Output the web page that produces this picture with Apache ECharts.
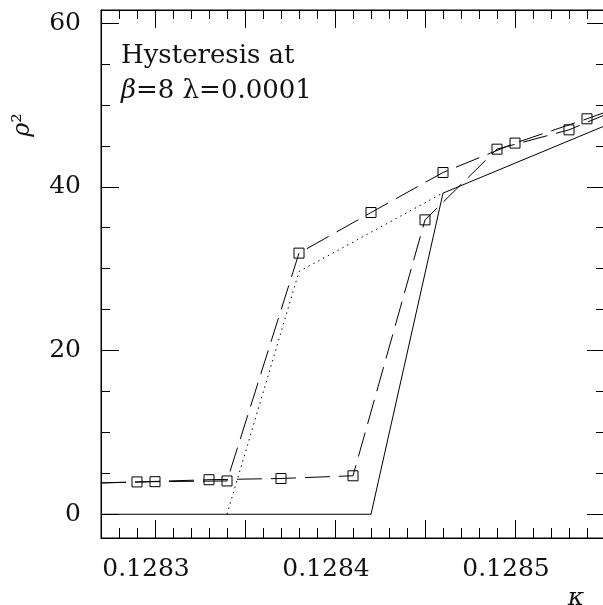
<!DOCTYPE html>
<html><head><meta charset="utf-8">
<script src="https://cdn.jsdelivr.net/npm/echarts@6/dist/echarts.min.js"></script>
<style>html,body{margin:0;padding:0;background:#fff}#c{width:603px;height:605px}</style>
</head><body><div id="c"></div>
<script>
// Axis ranges
const xMin = 0.12827, xMax = 0.12855;
const yMin = -2.9, yMax = 61.6;
// Tick labels and tick positions
const xLabelValues = [0.1283, 0.1284, 0.1285];
const xMajorTicks = [0.1283, 0.12835, 0.1284, 0.12845, 0.1285];
const xMinorTicks = [0.12828, 0.12829, 0.12831, 0.12832, 0.12833, 0.12834, 0.12836, 0.12837, 0.12838, 0.12839,
                     0.12841, 0.12842, 0.12843, 0.12844, 0.12846, 0.12847, 0.12848, 0.12849,
                     0.12851, 0.12852, 0.12853, 0.12854];
const yLabelValues = [0, 20, 40, 60];
const yMajorTicks = [0, 20, 40, 60];
const yMinorTicks = [5, 10, 15, 25, 30, 35, 45, 50, 55];

// Increasing-kappa branch (dashed, squares); first/last are values where the curve meets the frame
const upKappa = [0.12827, 0.12829, 0.12833, 0.12837, 0.12841, 0.12845, 0.12849, 0.12853, 0.12855];
const upRho   = [3.83, 3.95, 4.22, 4.37, 4.70, 35.96, 44.60, 46.96, 48.8];
// Decreasing-kappa branch (dashed, squares)
const downKappa = [0.12827, 0.12830, 0.12834, 0.12838, 0.12842, 0.12846, 0.12850, 0.12854, 0.12855];
const downRho   = [3.83, 3.98, 4.07, 31.9, 36.86, 41.75, 45.34, 48.31, 49.1];
// Solid curve
const solidKappa = [0.12827, 0.12842, 0.12846, 0.12855];
const solidRho   = [0, 0, 39.23, 47.46];
// Dotted curve
const dotKappa = [0.12834, 0.12838, 0.12846];
const dotRho   = [0, 29.65, 39.25];

const FONT = '"DejaVu Serif", serif';
const zip = (a, b) => a.map((v, i) => [v, b[i]]);

function tickAxis(kind, grid, pos, ticks, len, extra) {
  const base = {
    type: 'value', gridIndex: grid, position: pos,
    min: kind === 'x' ? xMin : yMin, max: kind === 'x' ? xMax : yMax,
    axisLine: { show: true, lineStyle: { color: '#000', width: 1 } },
    splitLine: { show: false },
    axisTick: { show: true, inside: true, length: len, customValues: ticks, lineStyle: { color: '#000', width: 1 } },
    axisLabel: { show: false }
  };
  return Object.assign(base, extra || {});
}
// helper axis whose range excludes zero, so the tick axes of that grid stay on the frame edges
const dummyAxis = (grid) => ({ type: 'value', gridIndex: grid, min: 1, max: 2, show: false });

const chart = echarts.init(document.getElementById('c'), null, { renderer: 'canvas' });

function branchSeries(k, r) {
  const n = k.length;
  return {
    type: 'line', xAxisIndex: 0, yAxisIndex: 0,
    data: zip(k, r),
    symbol: (v, p) => (p.dataIndex === 0 || p.dataIndex === n - 1) ? 'none' : 'rect',
    symbolSize: 10,
    showAllSymbol: true,
    itemStyle: { color: 'rgba(0,0,0,0)', borderColor: '#000', borderWidth: 1 },
    lineStyle: { color: '#000', width: 1, type: [25, 9] },
    emphasis: { disabled: true },
    clip: true, z: 3
  };
}

// minor kappa ticks on bottom and top frame edges, placed through the data axes' scale
function minorTickSeries() {
  return {
    type: 'custom', xAxisIndex: 0, yAxisIndex: 0, silent: true, clip: false, z: 4,
    data: xMinorTicks.map(v => [v, yMin]),
    renderItem: (params, api) => {
      const x = Math.round(api.coord([api.value(0), yMin])[0]) + 0.5;
      const yb = Math.round(api.coord([xMin, yMin])[1]);
      const yt = Math.round(api.coord([xMin, yMax])[1]);
      return {
        type: 'group',
        children: [
          { type: 'line', shape: { x1: x, y1: yb, x2: x, y2: yb - 10 }, style: { stroke: '#000', lineWidth: 1 } },
          { type: 'line', shape: { x1: x, y1: yt, x2: x, y2: yt + 9 }, style: { stroke: '#000', lineWidth: 1 } }
        ]
      };
    }
  };
}

const gridRect = { left: 101, top: 10, width: 504, height: 528, containLabel: false, outerBoundsMode: 'none' };

chart.setOption({
  animation: false,
  backgroundColor: '#fff',
  grid: [
    Object.assign({ show: true, borderColor: '#000', borderWidth: 1, backgroundColor: 'transparent' }, gridRect), // data
    Object.assign({ show: false }, gridRect),  // x ticks
    Object.assign({ show: false }, gridRect)   // y ticks
  ],
  xAxis: [
    { type: 'value', gridIndex: 0, min: xMin, max: xMax, show: false },
    tickAxis('x', 1, 'bottom', xMajorTicks, 18, {
      axisLabel: {
        show: true, customValues: xLabelValues, formatter: v => v.toFixed(4),
        fontFamily: FONT, fontSize: 25, color: '#111', margin: 31, verticalAlign: 'middle',
        padding: [0, 18, 0, 0]
      }
    }),
    tickAxis('x', 1, 'top', xMajorTicks, 18),
    dummyAxis(2)
  ],
  yAxis: [
    { type: 'value', gridIndex: 0, min: yMin, max: yMax, show: false },
    dummyAxis(1),
    tickAxis('y', 2, 'left', yMajorTicks, 18, {
      axisLabel: {
        show: true, customValues: yLabelValues, formatter: v => String(v),
        fontFamily: FONT, fontSize: 25, color: '#111', margin: 20, align: 'right', verticalAlign: 'middle'
      }
    }),
    tickAxis('y', 2, 'left', yMinorTicks, 9),
    tickAxis('y', 2, 'right', yMajorTicks, 18),
    tickAxis('y', 2, 'right', yMinorTicks, 9)
  ],
  series: [
    {
      type: 'line', xAxisIndex: 0, yAxisIndex: 0, data: zip(solidKappa, solidRho),
      symbol: 'none', lineStyle: { color: '#000', width: 1, type: 'solid' }, clip: true, z: 2
    },
    {
      type: 'line', xAxisIndex: 0, yAxisIndex: 0, data: zip(dotKappa, dotRho),
      symbol: 'none', lineStyle: { color: '#000', width: 1, type: [1.5, 4] }, clip: true, z: 2
    },
    branchSeries(upKappa, upRho),
    branchSeries(downKappa, downRho),
    minorTickSeries()
  ],
  graphic: [
    { type: 'text', x: 121, y: 56, style: { text: 'Hysteresis at', fontFamily: FONT, fontSize: 26, fill: '#111', align: 'left', verticalAlign: 'middle' } },
    { type: 'text', x: 121, y: 91, style: {
        text: '{b|β}=8 λ=0.0001', fontFamily: FONT, fontSize: 26, fill: '#111', align: 'left', verticalAlign: 'middle',
        rich: { b: { fontFamily: FONT, fontSize: 26, fontStyle: 'italic', fill: '#111' } } } },
    { type: 'text', x: 23, y: 125, rotation: Math.PI / 2, style: {
        text: '{r|ρ}{s|²}', align: 'center', verticalAlign: 'middle', fill: '#000',
        rich: { r: { fontFamily: FONT, fontSize: 24, fontStyle: 'italic', fill: '#111' },
                s: { fontFamily: FONT, fontSize: 24, fill: '#111' } } } },
    { type: 'text', x: 576, y: 598, style: { text: 'κ', fontFamily: FONT, fontSize: 25, fontStyle: 'italic', fill: '#111', align: 'center', verticalAlign: 'middle' } }
  ]
});
</script>
</body></html>
